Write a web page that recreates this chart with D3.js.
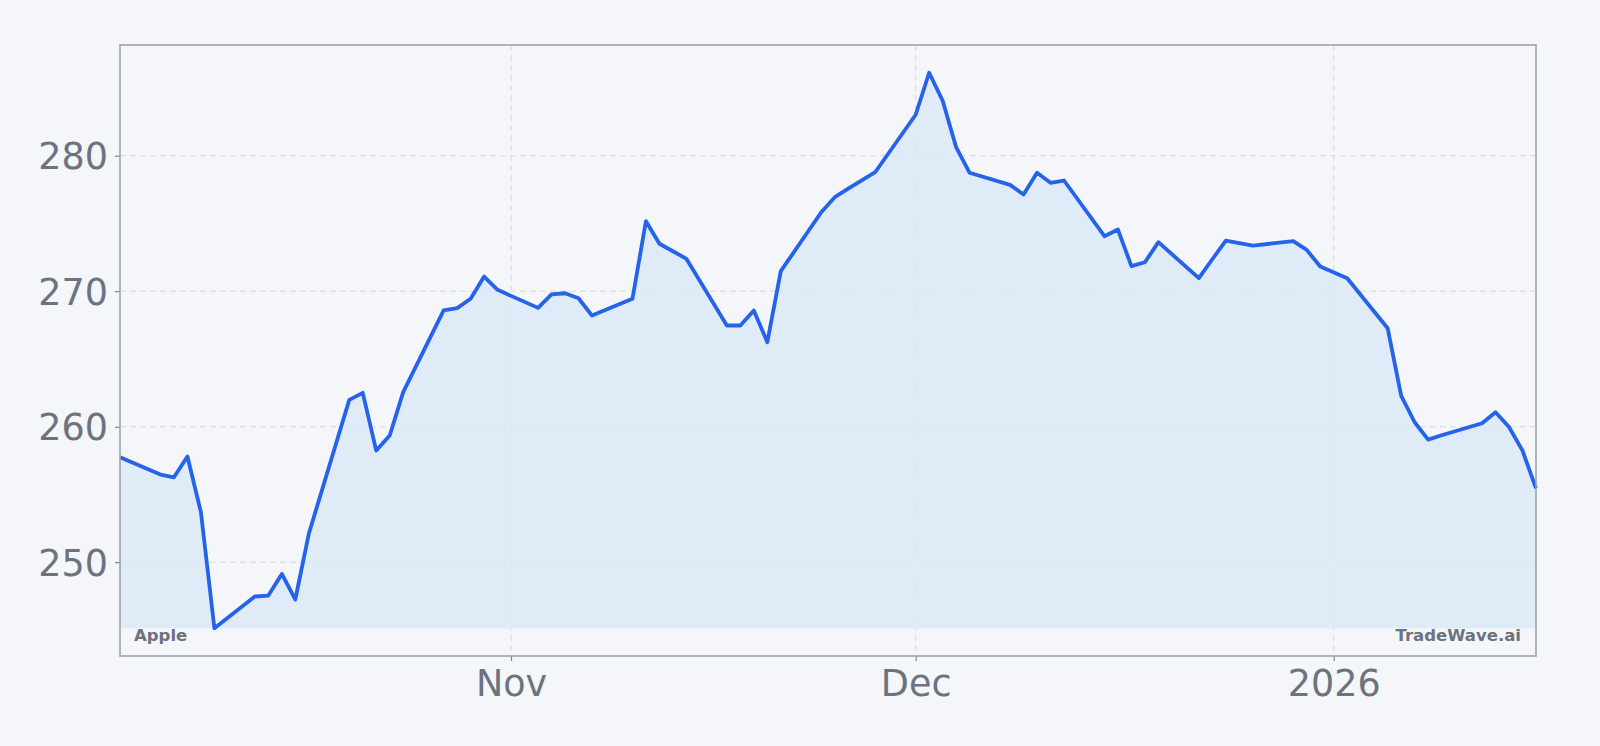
<!DOCTYPE html>
<html>
<head>
<meta charset="utf-8">
<script src="https://cdn.jsdelivr.net/npm/d3@7"></script>
<style>
  body { margin: 0; background: #f4f6f9; }
  svg { display: block; font-family: "DejaVu Sans", sans-serif; }
  .tick text { fill: #6b7280; font-size: 36.5px; font-family: "DejaVu Sans", sans-serif; }
  .tick line { stroke: #6b7280; }
  .grid line { stroke: #d6dae0; stroke-dasharray: 6,4; }
  .wm { fill: #6b7280; font-size: 16.5px; font-weight: bold; }
</style>
</head>
<body>
<div id="chart"></div>
<script>
// Apple daily close, Oct 3 2025 - Jan 16 2026
var dates = [
  "2025-10-03", "2025-10-06", "2025-10-07", "2025-10-08", "2025-10-09", "2025-10-10",
  "2025-10-13", "2025-10-14", "2025-10-15", "2025-10-16", "2025-10-17",
  "2025-10-20", "2025-10-21", "2025-10-22", "2025-10-23", "2025-10-24",
  "2025-10-27", "2025-10-28", "2025-10-29", "2025-10-30", "2025-10-31",
  "2025-11-03", "2025-11-04", "2025-11-05", "2025-11-06", "2025-11-07",
  "2025-11-10", "2025-11-11", "2025-11-12", "2025-11-13", "2025-11-14",
  "2025-11-17", "2025-11-18", "2025-11-19", "2025-11-20", "2025-11-21",
  "2025-11-24", "2025-11-25", "2025-11-26", "2025-11-28",
  "2025-12-01", "2025-12-02", "2025-12-03", "2025-12-04", "2025-12-05",
  "2025-12-08", "2025-12-09", "2025-12-10", "2025-12-11", "2025-12-12",
  "2025-12-15", "2025-12-16", "2025-12-17", "2025-12-18", "2025-12-19",
  "2025-12-22", "2025-12-23", "2025-12-24", "2025-12-26",
  "2025-12-29", "2025-12-30", "2025-12-31", "2026-01-02",
  "2026-01-05", "2026-01-06", "2026-01-07", "2026-01-08", "2026-01-09",
  "2026-01-12", "2026-01-13", "2026-01-14", "2026-01-15", "2026-01-16"
];
var prices = [
  257.75, 256.47, 256.27, 257.80, 253.70, 245.13,
  247.47, 247.54, 249.14, 247.25, 252.10,
  261.98, 262.50, 258.24, 259.35, 262.55,
  268.58, 268.75, 269.44, 271.08, 270.10,
  268.77, 269.76, 269.85, 269.48, 268.20,
  269.44, 275.17, 273.50, 272.95, 272.39,
  267.47, 267.47, 268.58, 266.24, 271.48,
  275.83, 276.94, 277.57, 278.78,
  283.02, 286.12, 284.07, 280.63, 278.74,
  277.85, 277.14, 278.74, 278.00, 278.17,
  274.06, 274.55, 271.85, 272.14, 273.62,
  270.96, 272.36, 273.74, 273.37,
  273.69, 273.05, 271.82, 270.96,
  267.27, 262.30, 260.33, 259.05, 259.37,
  260.26, 261.07, 259.98, 258.24, 255.45
];
var yTicks = [250, 260, 270, 280];
var xTickDates = ["2025-11-01", "2025-12-01", "2026-01-01"];
var xTickLabels = ["Nov", "Dec", "2026"];
var seriesName = "Apple";
var brand = "TradeWave.ai";

var svgWidth = 1600;
var svgHeight = 746;
var margin = { top: 45, right: 64, bottom: 90, left: 120 };
var width = svgWidth - margin.left - margin.right;
var height = svgHeight - margin.top - margin.bottom;

var parse = d3.utcParse("%Y-%m-%d");
var data = dates.map(function(d, i) {
  return { date: parse(d), close: prices[i] };
});

var svg = d3.select("#chart")
  .append("svg")
  .attr("width", svgWidth)
  .attr("height", svgHeight);

svg.append("rect")
  .attr("width", svgWidth)
  .attr("height", svgHeight)
  .attr("fill", "#f4f6f9");

var chartGroup = svg.append("g")
  .attr("transform", `translate(${margin.left}, ${margin.top})`);

var x = d3.scaleUtc()
  .domain(d3.extent(data, d => d.date))
  .range([0, width]);

// 5% padding like matplotlib autoscale
var yMin = d3.min(data, d => d.close);
var yMax = d3.max(data, d => d.close);
var pad = (yMax - yMin) * 0.05;
var y = d3.scaleLinear()
  .domain([yMin - pad, yMax + pad])
  .range([height, 0]);

var xTicks = xTickDates.map(parse);

// grid
chartGroup.append("g")
  .attr("class", "grid")
  .selectAll("line.h")
  .data(yTicks)
  .enter()
  .append("line")
  .attr("x1", 0)
  .attr("x2", width)
  .attr("y1", d => y(d))
  .attr("y2", d => y(d));

chartGroup.append("g")
  .attr("class", "grid")
  .selectAll("line.v")
  .data(xTicks)
  .enter()
  .append("line")
  .attr("x1", d => x(d))
  .attr("x2", d => x(d))
  .attr("y1", 0)
  .attr("y2", height);

// area down to the lowest close
var area = d3.area()
  .x(d => x(d.date))
  .y0(y(yMin))
  .y1(d => y(d.close));

chartGroup.append("path")
  .datum(data)
  .attr("d", area)
  .attr("fill", "#dbe8f7")
  .attr("opacity", 0.8);

var line = d3.line()
  .x(d => x(d.date))
  .y(d => y(d.close));

chartGroup.append("path")
  .datum(data)
  .attr("d", line)
  .attr("fill", "none")
  .attr("stroke", "#2563eb")
  .attr("stroke-width", 3.8)
  .attr("stroke-linejoin", "round");

// axes
var yAxis = d3.axisLeft(y)
  .tickValues(yTicks)
  .tickSize(5)
  .tickPadding(7);
var xAxis = d3.axisBottom(x)
  .tickValues(xTicks)
  .tickFormat((d, i) => xTickLabels[i])
  .tickSize(5)
  .tickPadding(9);

var gy = chartGroup.append("g").call(yAxis)
  .attr("font-family", null)
  .attr("font-size", null);
gy.select(".domain").remove();
gy.selectAll("text").attr("dy", "0.36em");

var gx = chartGroup.append("g")
  .attr("transform", `translate(0, ${height})`)
  .call(xAxis)
  .attr("font-family", null)
  .attr("font-size", null);
gx.select(".domain").remove();

// frame
chartGroup.append("rect")
  .attr("width", width)
  .attr("height", height)
  .attr("fill", "none")
  .attr("stroke", "#9ca3af")
  .attr("stroke-width", 1.6);

// watermark labels
chartGroup.append("text")
  .attr("class", "wm")
  .attr("x", 14)
  .attr("y", height - 15)
  .text(seriesName);

chartGroup.append("text")
  .attr("class", "wm")
  .attr("x", width - 15)
  .attr("y", height - 15)
  .attr("text-anchor", "end")
  .text(brand);
</script>
</body>
</html>
